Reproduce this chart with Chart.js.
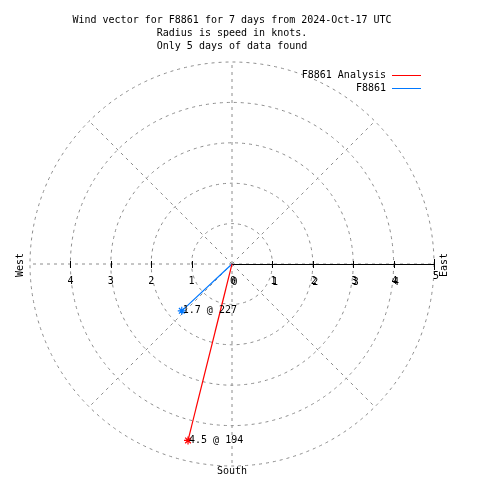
<!DOCTYPE html>
<html>
<head>
<meta charset="utf-8">
<script src="https://cdn.jsdelivr.net/npm/chart.js@4"></script>
<style>
  html, body { margin: 0; padding: 0; background: #fff; }
  canvas { display: block; }
</style>
</head>
<body>
<canvas id="wind" width="480" height="480"></canvas>
<script>
// --- DATA ---
const titleLines = [
  'Wind vector for F8861 for 7 days from 2024-Oct-17 UTC',
  'Radius is speed in knots.',
  'Only 5 days of data found'
];
const seriesNames = ['F8861 Analysis', 'F8861'];
const speeds = [4.5, 1.7];       // knots
const directions = [194, 227];   // degrees, compass
const seriesColors = ['#ff0000', '#0078ff'];
const ringValues = [1, 2, 3, 4, 5];
const spokeAngles = [0, 45, 90, 135, 180, 225, 270, 315];
const eastTicks = [0, 1, 2, 3, 4, 5];
const westTicks = [1, 2, 3, 4];
const rMax = 5;

const FONT = '10px "DejaVu Sans Mono", "Liberation Mono", monospace';

// compass bearing -> x/y (north up, east right)
function toXY(speed, dir) {
  const a = dir * Math.PI / 180;
  return { x: speed * Math.sin(a), y: speed * Math.cos(a) };
}

const datasets = seriesNames.map((name, i) => {
  const tip = toXY(speeds[i], directions[i]);
  return {
    label: name,
    data: [{ x: 0, y: 0 }, tip],
    showLine: true,
    borderColor: seriesColors[i],
    backgroundColor: seriesColors[i],
    borderWidth: 1.2,
    pointStyle: 'star',
    pointRadius: [0, 4],
    pointBorderWidth: 1.2,
    pointBorderColor: seriesColors[i],
    order: i === 0 ? 0 : 1
  };
});

// polar grid + axis, drawn through the chart's scales
const polarGrid = {
  id: 'polarGrid',
  beforeDatasetsDraw(chart) {
    const { ctx, scales } = chart;
    const xs = scales.x, ys = scales.y;
    const cx = xs.getPixelForValue(0), cy = ys.getPixelForValue(0);
    const unit = xs.getPixelForValue(1) - cx;

    ctx.save();
    ctx.strokeStyle = '#8c8c8c';
    ctx.lineWidth = 1;
    ctx.setLineDash([3, 4]);
    ringValues.forEach(r => {
      ctx.beginPath();
      ctx.arc(cx, cy, r * unit, 0, Math.PI * 2);
      ctx.stroke();
    });
    spokeAngles.forEach(ang => {
      const p = toXY(rMax, ang);
      ctx.beginPath();
      ctx.moveTo(cx, cy);
      ctx.lineTo(xs.getPixelForValue(p.x), ys.getPixelForValue(p.y));
      ctx.stroke();
    });
    ctx.setLineDash([]);

    // black axis to the east
    ctx.strokeStyle = '#000';
    ctx.beginPath();
    ctx.moveTo(cx, cy + 0.5);
    ctx.lineTo(xs.getPixelForValue(rMax), cy + 0.5);
    ctx.stroke();
    eastTicks.concat(westTicks.map(v => -v)).forEach(v => {
      if (v === 0) return;
      const px = Math.round(xs.getPixelForValue(v)) + 0.5;
      const h = v === rMax ? 5 : 3;
      ctx.beginPath();
      ctx.moveTo(px, cy - h);
      ctx.lineTo(px, cy + h + 1);
      ctx.stroke();
    });
    ctx.restore();
  },
  afterDraw(chart) {
    const { ctx, scales } = chart;
    const xs = scales.x, ys = scales.y;
    const cx = xs.getPixelForValue(0), cy = ys.getPixelForValue(0);

    ctx.save();
    ctx.font = FONT;
    ctx.fillStyle = '#000';
    ctx.textBaseline = 'middle';

    // title
    ctx.textAlign = 'center';
    titleLines.forEach((t, i) => ctx.fillText(t, 232, 20 + i * 13));

    // tick labels (drawn twice on the east side, as in the original)
    eastTicks.forEach(v => {
      const px = xs.getPixelForValue(v);
      if (v === rMax) {
        ctx.fillText(String(v), px + 2, cy + 12);
      } else {
        ctx.fillText(String(v), px + 1, cy + 17);
        ctx.fillText(String(v), px + 2.5, cy + 18);
      }
    });
    westTicks.forEach(v => {
      ctx.fillText(String(v), xs.getPixelForValue(-v), cy + 17);
    });

    // compass words
    ctx.fillText('South', cx, 471);
    [['West', 20], ['East', 444]].forEach(([w, x]) => {
      ctx.save();
      ctx.translate(x, cy + 1);
      ctx.rotate(-Math.PI / 2);
      ctx.fillText(w, 0, 0);
      ctx.restore();
    });

    // point labels
    ctx.textAlign = 'left';
    seriesNames.forEach((n, i) => {
      const tip = toXY(speeds[i], directions[i]);
      const label = speeds[i].toFixed(1) + ' @ ' + directions[i];
      ctx.fillText(label, xs.getPixelForValue(tip.x) + 1, ys.getPixelForValue(tip.y));
    });

    // key
    ctx.textAlign = 'right';
    seriesNames.forEach((n, i) => {
      const y = 75 + i * 13;
      ctx.fillText(n, 386, y);
      ctx.strokeStyle = seriesColors[i];
      ctx.lineWidth = 1;
      ctx.beginPath();
      ctx.moveTo(392, y + 0.5);
      ctx.lineTo(421, y + 0.5);
      ctx.stroke();
    });
    ctx.restore();
  }
};

new Chart(document.getElementById('wind'), {
  type: 'scatter',
  data: { datasets },
  options: {
    responsive: false,
    animation: false,
    layout: { padding: { left: 30, right: 46, top: 62, bottom: 14 } },
    scales: {
      x: { type: 'linear', min: -rMax, max: rMax, display: false },
      y: { type: 'linear', min: -rMax, max: rMax, display: false }
    },
    plugins: {
      legend: { display: false },
      title: { display: false },
      tooltip: { enabled: false }
    }
  },
  plugins: [polarGrid]
});
</script>
</body>
</html>
